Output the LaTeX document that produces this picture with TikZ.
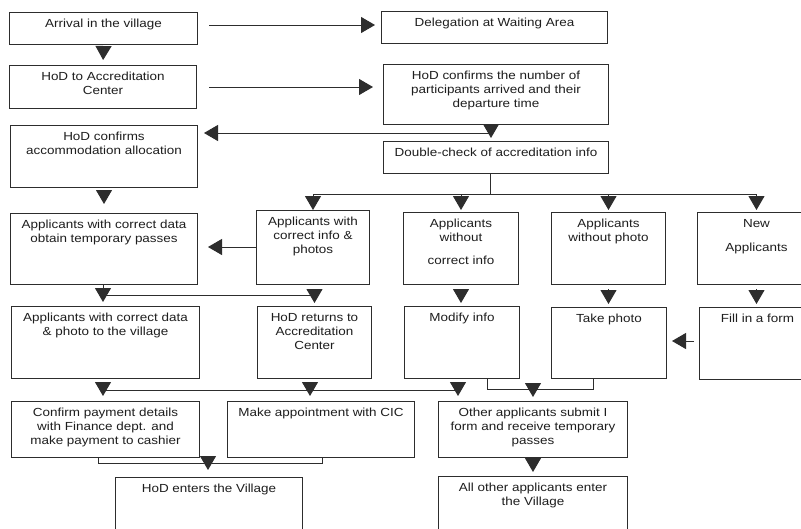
\documentclass[tikz,border=0pt]{standalone}
\usepackage{fontspec}
\setmainfont[FakeStretch=1.15]{Liberation Sans}
\usetikzlibrary{arrows.meta,calc}
\definecolor{lc}{RGB}{45,45,45}
\definecolor{tc}{RGB}{30,30,30}
\newcommand{\flowbox}[6]{%
  \node[flow] (#1) at (#2,#3) {\parbox[t][\dimexpr #5pt-#3pt\relax][t]{\dimexpr #4pt-#2pt\relax}{\centering\vspace*{4.7pt}\strut #6\par}};}
\tikzset{
  flow/.style={draw=lc, line width=1pt, inner sep=0pt, anchor=north west,
    font=\fontsize{11.7}{14}\selectfont, text=tc},
  ln/.style={draw=lc, line width=1pt},
  arr/.style={ln, -{Triangle[length=14pt,width=16pt]}},
}
\begin{document}
\begin{tikzpicture}[x=1pt,y=-1pt]
\clip[use as bounding box] (0,0) rectangle (801,528);
\fill[white] (0,0) rectangle (801,528);
% boxes
\flowbox{A}{9}{12}{197}{44}{Arrival in the village}
\flowbox{B}{381}{11}{607}{43}{Delegation at Waiting Area}
\flowbox{C}{9}{65}{196}{108}{HoD to Accreditation\\Center}
\flowbox{D}{383}{64}{608}{124}{HoD confirms the number of\\participants arrived and their\\departure time}
\flowbox{E}{10}{125}{197}{187}{HoD confirms\\accommodation allocation}
\flowbox{F}{383}{141}{608}{173}{Double-check of accreditation info}
\flowbox{K}{10}{213}{197}{284}{Applicants with correct data\\obtain temporary passes}
\flowbox{G}{256}{210}{369}{284}{Applicants with\\correct info \&\\photos}
\flowbox{H}{403}{212}{518}{284}{Applicants\\without\\[9pt]correct info}
\flowbox{I}{551}{212}{665}{284}{Applicants\\without photo}
\flowbox{J}{697}{212}{815}{284}{New\\[10pt]Applicants}
\flowbox{L}{11}{306}{199}{378}{Applicants with correct data\\\& photo to the village}
\flowbox{M}{257}{306}{371}{378}{HoD returns to\\Accreditation\\Center}
\flowbox{N}{404}{306}{519}{378}{Modify info}
\flowbox{O}{551}{307}{666}{378}{Take photo}
\flowbox{P}{699}{307}{815}{379}{Fill in a form}
\flowbox{R}{11}{401}{199}{457}{Confirm payment details\\with Finance dept. and\\make payment to cashier}
\flowbox{Q}{227}{401}{414}{457}{Make appointment with CIC}
\flowbox{S}{438}{401}{627}{457}{Other applicants submit I\\form and receive temporary\\passes}
\flowbox{T}{115}{477}{302}{545}{HoD enters the Village}
\flowbox{U}{438}{476}{627}{545}{All other applicants enter\\the Village}
% top rows
\draw[arr, shorten <=11pt, shorten >=6pt] (A.east |- 0,25) -- (B.west |- 0,25);
\draw[arr, shorten <=3pt, shorten >=5pt] (A.south) -- (C.north);
\draw[arr, shorten <=12pt, shorten >=10pt] (C.east |- 0,87) -- (D.west |- 0,87);
\draw[arr, shorten >=3pt] (D.south -| 491,0) -- (F.north -| 491,0);
\coordinate (jDE) at (490,133);
\draw[arr, shorten >=6pt] (jDE) -- (E.east |- jDE);
\draw[arr, shorten <=4pt, shorten >=9pt] (E.south) -- (K.north);
% branching under F
\coordinate (fb) at (490,194);
\draw[ln] (F.south -| fb) -- (fb);
\draw[ln] (G.north |- fb) -- (J.north |- fb);
\draw[arr] (G.north |- fb) -- (G.north);
\draw[arr, shorten >=2pt] (H.north |- fb) -- (H.north);
\draw[arr, shorten >=2pt] (I.north |- fb) -- (I.north);
\draw[arr, shorten >=2pt] (J.north |- fb) -- (J.north);
\draw[arr, shorten >=10pt] (G.west |- 0,247) -- (K.east |- 0,247);
% from row 3 to row 4
\coordinate (kb) at (103,295);
\draw[arr, shorten >=4pt] (K.south -| kb) -- (L.north -| kb);
\draw[ln] (kb) -- (kb -| M.north);
\draw[arr, shorten >=3pt] (kb -| M.north) -- (M.north);
\draw[arr, shorten <=4pt, shorten >=3pt] (H.south) -- (H.south |- N.north);
\draw[arr, shorten <=4pt, shorten >=3pt] (I.south) -- (I.south |- O.north);
\draw[arr, shorten <=4pt, shorten >=3pt] (J.south) -- (J.south |- P.north);
\draw[arr, shorten <=5pt, shorten >=5pt] (P.west |- 0,341) -- (O.east |- 0,341);
% from row 4 to row 5
\coordinate (t1) at (103,390);
\coordinate (t2) at (310,390);
\coordinate (t3) at (458,390);
\draw[ln] (t1) -- (t3);
\draw[arr, shorten <=4pt, shorten >=5pt] (L.south -| t1) -- (R.north -| t1);
\draw[arr, shorten <=4pt, shorten >=5pt] (M.south -| t2) -- (Q.north -| t2);
\draw[arr, shorten <=4pt, shorten >=5pt] (N.south -| t3) -- (S.north -| t3);
\draw[ln] (N.south -| 487,0) -- (487,389) -- (593,389) -- (O.south -| 593,0);
\coordinate (nob) at (533,389);
\draw[arr, shorten >=4pt] (nob) -- (S.north -| nob);
% to row 6
\draw[ln] (R.south -| 98,0) -- (98,463) -- (322,463) -- (Q.south -| 322,0);
\coordinate (rqb) at (208,463);
\draw[arr, shorten >=7pt] (rqb) -- (T.north -| rqb);
\draw[arr, shorten >=4pt] (S.south) -- (U.north);
\end{tikzpicture}
\end{document}
